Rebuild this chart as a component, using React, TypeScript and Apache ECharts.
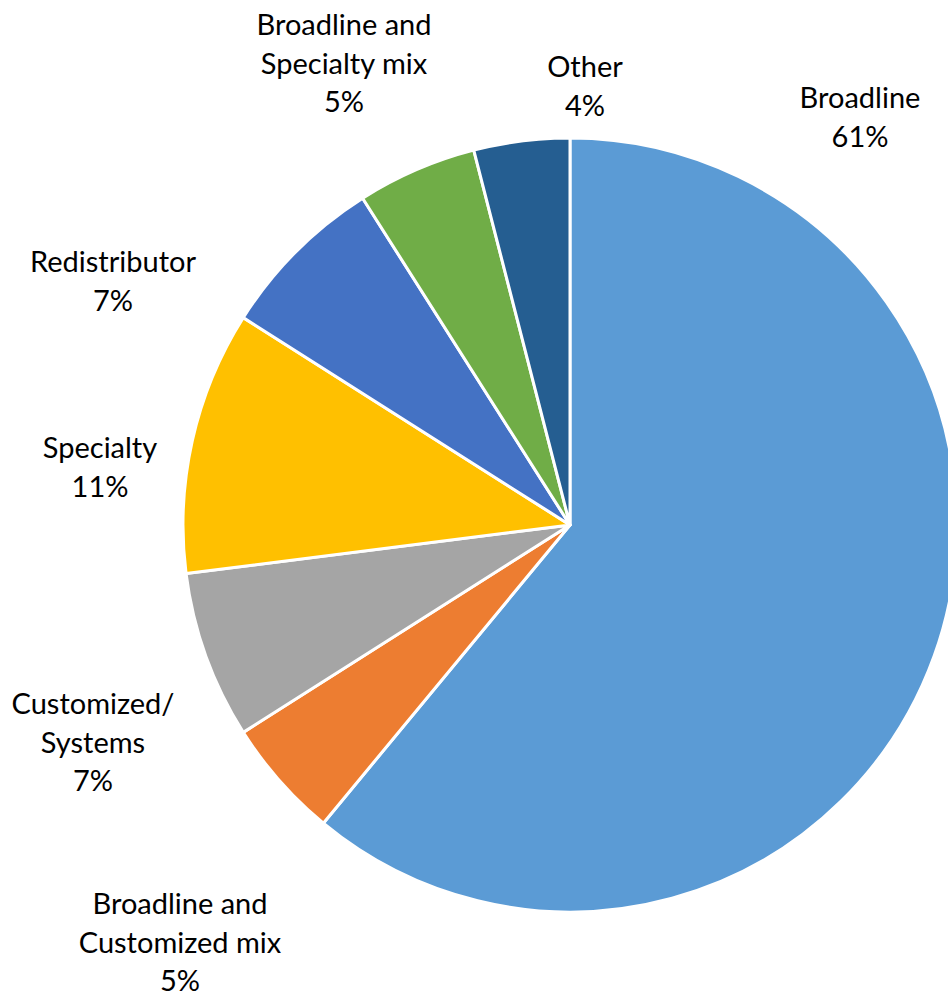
import React, { useEffect, useRef } from "react";
import * as echarts from "echarts";

const categories = [
  "Broadline",
  "Broadline and Customized mix",
  "Customized/ Systems",
  "Specialty",
  "Redistributor",
  "Broadline and Specialty mix",
  "Other",
];
const labelNames = [
  "Broadline",
  "Broadline and\nCustomized mix",
  "Customized/\nSystems",
  "Specialty",
  "Redistributor",
  "Broadline and\nSpecialty mix",
  "Other",
];
const shares = [61, 5, 7, 11, 7, 5, 4];
const colors = ["#5B9BD5", "#ED7D31", "#A5A5A5", "#FFC000", "#4472C4", "#70AD47", "#255E91"];
// label block centers (Excel best-fit placement)
const labelPos: [number, number][] = [
  [860, 116],
  [180, 941],
  [93, 741],
  [100, 466],
  [113, 280],
  [344, 62],
  [585, 85],
];

export default function App() {
  const ref = useRef<HTMLDivElement>(null);
  useEffect(() => {
    if (!ref.current) return;
    const chart = echarts.init(ref.current, null, { renderer: "svg" });
    chart.setOption({
      animation: false,
      backgroundColor: "#ffffff",
      series: [
        {
          type: "pie",
          center: [570, 525],
          radius: 387,
          startAngle: 90,
          clockwise: true,
          avoidLabelOverlap: false,
          data: categories.map((c, i) => ({
            name: c,
            value: shares[i],
            itemStyle: { color: colors[i] },
          })),
          itemStyle: { borderColor: "#ffffff", borderWidth: 3 },
          label: {
            show: true,
            position: "outside",
            formatter: (p: any) => `${labelNames[p.dataIndex]}\n${p.value}%`,
            fontFamily: "Lato, 'Noto Sans', sans-serif",
            fontSize: 29,
            lineHeight: 38.5,
            color: "#000000",
            align: "center",
          },
          labelLine: { show: false },
          labelLayout: (params: any) => ({
            x: labelPos[params.dataIndex][0],
            y: labelPos[params.dataIndex][1],
            align: "center",
            verticalAlign: "middle",
          }),
          emphasis: { disabled: true },
        },
      ],
    });
    return () => chart.dispose();
  }, []);
  return (
    <div
      ref={ref}
      style={{ position: "fixed", left: 0, top: 0, width: 948, height: 997 }}
    />
  );
}
